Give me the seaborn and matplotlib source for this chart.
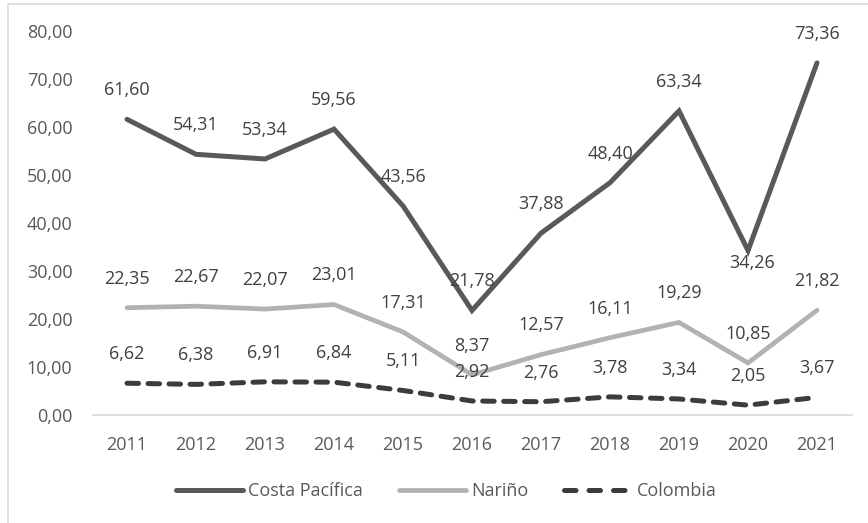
import matplotlib
matplotlib.use("Agg")
import matplotlib.pyplot as plt
import seaborn as sns
import pandas as pd
from matplotlib.lines import Line2D

years = [2011, 2012, 2013, 2014, 2015, 2016, 2017, 2018, 2019, 2020, 2021]
costa_pacifica = [61.60, 54.31, 53.34, 59.56, 43.56, 21.78, 37.88, 48.40, 63.34, 34.26, 73.36]
narino = [22.35, 22.67, 22.07, 23.01, 17.31, 8.37, 12.57, 16.11, 19.29, 10.85, 21.82]
colombia = [6.62, 6.38, 6.91, 6.84, 5.11, 2.92, 2.76, 3.78, 3.34, 2.05, 3.67]
series_names = ["Costa Pacífica", "Nariño", "Colombia"]
y_ticks = [0, 10, 20, 30, 40, 50, 60, 70, 80]

sns.set_theme(style="white")
plt.rcParams["font.family"] = ["Open Sans", "DejaVu Sans"]
FS = 13

fig = plt.figure(figsize=(8.68, 5.23), dpi=100)
ax = fig.add_axes([0.1066, 0.2065, 0.8744, 0.7342])

df = pd.DataFrame({"Año": years, series_names[0]: costa_pacifica,
                   series_names[1]: narino, series_names[2]: colombia})

styles = {
    "Costa Pacífica": dict(color="#595959", lw=3.6, dashes=None),
    "Nariño": dict(color="#b2b2b2", lw=3.4, dashes=None),
    "Colombia": dict(color="#3c3c3c", lw=3.6, dashes=(2.3, 1.9)),
}

for name in series_names:
    st = styles[name]
    sns.lineplot(data=df, x="Año", y=name, ax=ax, color=st["color"], lw=st["lw"],
                 legend=False)
    line = ax.lines[-1]
    line.set_solid_capstyle("round")
    line.set_solid_joinstyle("miter")
    if st["dashes"]:
        line.set_dashes(st["dashes"])
        line.set_dash_capstyle("round")

# data labels
special = {("Costa Pacífica", 2020): (3, -9)}
for name in series_names:
    for x, v in zip(df["Año"], df[name]):
        off = special.get((name, x), (0, 21))
        ax.annotate(f"{v:.2f}".replace(".", ","), (x, v), xytext=off,
                    textcoords="offset points", ha="center", va="center",
                    fontsize=FS, color="#404040")

ax.set_xlim(2010.5, 2021.5)
ax.set_ylim(0, 80)
ax.set_xticks(years)
ax.set_xticklabels([str(y) for y in years])
ax.set_yticks(y_ticks)
ax.set_yticklabels([f"{t:.2f}".replace(".", ",") for t in y_ticks])
ax.tick_params(axis="both", length=0, labelsize=FS, labelcolor="#595959")
ax.tick_params(axis="y", pad=14.5)
ax.tick_params(axis="x", pad=15)
ax.set_xlabel("")
ax.set_ylabel("")
for s in ["top", "right", "left"]:
    ax.spines[s].set_visible(False)
ax.spines["bottom"].set_color("#d9d9d9")
ax.spines["bottom"].set_linewidth(1.2)
ax.grid(False)

handles = []
for name in series_names:
    st = styles[name]
    h = Line2D([], [], color=st["color"], lw=st["lw"], solid_capstyle="round")
    if st["dashes"]:
        h.set_dashes((2.3, 2.6))
        h.set_dash_capstyle("round")
    handles.append(h)
fig.legend(handles, series_names, loc="center", bbox_to_anchor=(0.514, 0.061),
           ncol=3, frameon=False, fontsize=FS, handlelength=3.7,
           handletextpad=0.3, columnspacing=2.0, labelcolor="#595959")

# figure border (left and top)
fig.add_artist(Line2D([7.5 / 868, 7.5 / 868], [0, 1 - 3.5 / 523], transform=fig.transFigure,
                      color="#d9d9d9", lw=1.2))
fig.add_artist(Line2D([7.5 / 868, 1], [1 - 3.5 / 523, 1 - 3.5 / 523], transform=fig.transFigure,
                      color="#d9d9d9", lw=1.2))

fig.savefig("out.png", dpi=100)
